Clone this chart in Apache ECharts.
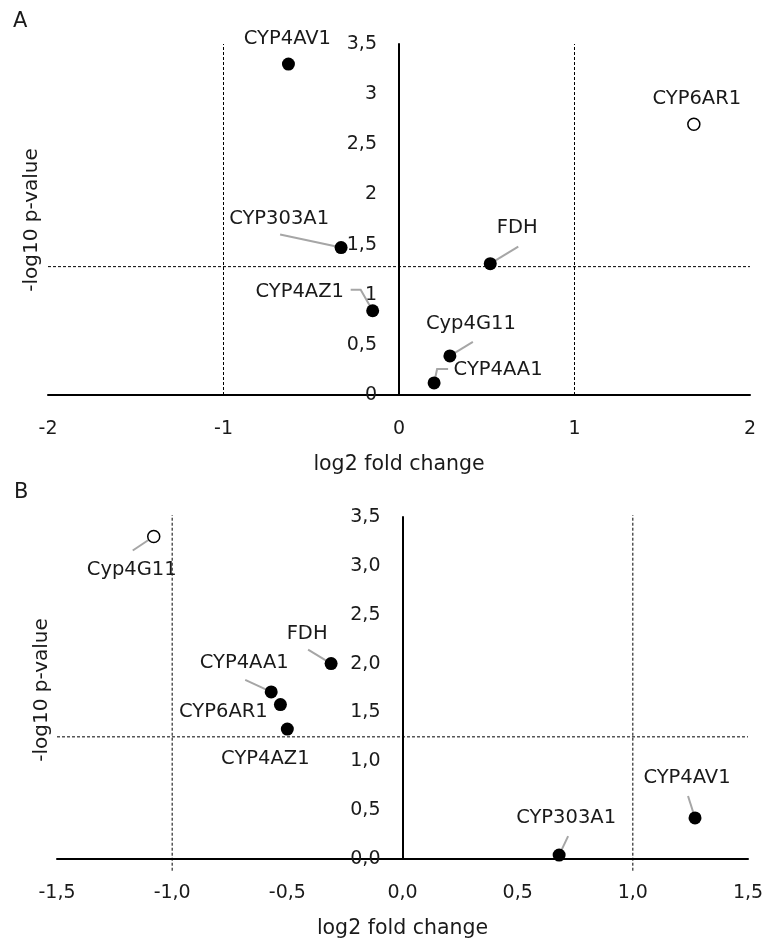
<!DOCTYPE html>
<html>
<head>
<meta charset="utf-8">
<script src="https://cdn.jsdelivr.net/npm/echarts@6/dist/echarts.min.js"></script>
<style>
  html, body { margin: 0; padding: 0; background: #fff; }
  #chart { width: 766px; height: 940px; }
</style>
</head>
<body>
<div id="chart"></div>
<script>
// panel A
const genesA = ['CYP4AV1', 'CYP6AR1', 'CYP303A1', 'FDH', 'CYP4AZ1', 'Cyp4G11', 'CYP4AA1'];
const foldA = [-0.63, 1.68, -0.33, 0.52, -0.15, 0.29, 0.20];
const pvalA = [3.30, 2.70, 1.47, 1.31, 0.84, 0.39, 0.12];
const xTicksA = [-2, -1, 0, 1, 2];
const yTicksA = [0, 0.5, 1, 1.5, 2, 2.5, 3, 3.5];
const pCutA = 1.28;

// panel B
const genesB = ['Cyp4G11', 'FDH', 'CYP4AA1', 'CYP6AR1', 'CYP4AZ1', 'CYP303A1', 'CYP4AV1'];
const foldB = [-1.08, -0.31, -0.57, -0.53, -0.50, 0.68, 1.27];
const pvalB = [3.30, 2.00, 1.71, 1.58, 1.33, 0.04, 0.42];
const xTicksB = [-1.5, -1.0, -0.5, 0.0, 0.5, 1.0, 1.5];
const yTicksB = [0, 0.5, 1, 1.5, 2, 2.5, 3, 3.5];
const pCutB = 1.25;

const foldCut = [-1, 1];

// label placement (px offsets from the point) and leader lines
const layoutA = {
  CYP4AV1: { off: [-1, -25] },
  CYP6AR1: { off: [3, -25] },
  CYP303A1: { off: [-62, -29], lead: [[-61, -13], [0, 0]] },
  FDH: { off: [27, -36], lead: [[28, -17], [0, 0]] },
  CYP4AZ1: { off: [-73, -19], lead: [[-22, -21], [-12, -21], [0, 0]] },
  Cyp4G11: { off: [21, -32], lead: [[23, -14], [0, 0]] },
  CYP4AA1: { off: [64, -13], lead: [[14, -14], [3, -14], [0, 0]] }
};
const layoutB = {
  Cyp4G11: { off: [-22, 33], lead: [[-21, 14], [0, 0]] },
  FDH: { off: [-24, -30], lead: [[-23, -14], [0, 0]] },
  CYP4AA1: { off: [-27, -29], lead: [[-26, -12], [0, 0]] },
  CYP6AR1: { off: [-57, 7] },
  CYP4AZ1: { off: [-22, 30] },
  CYP303A1: { off: [7, -37], lead: [[9, -19], [0, 0]] },
  CYP4AV1: { off: [-8, -40], lead: [[-7, -22], [0, 0]] }
};

const gridA = { left: 48, top: 44, width: 702, height: 351 };
const gridB = { left: 57, top: 517, width: 691, height: 342 };

const FONT = 'DejaVu Sans';
const TXT = '#1a1a1a';
const comma = (v, dec) => (dec ? v.toFixed(dec) : String(v)).replace('.', ',');

function points(genes, fold, pval, pCut, layout) {
  return genes.map((g, i) => {
    const hollow = Math.abs(fold[i]) >= 1 && pval[i] >= pCut;
    return {
      name: g,
      value: [fold[i], pval[i]],
      symbolSize: hollow ? 12 : 13,
      itemStyle: hollow
        ? { color: '#fff', borderColor: '#000', borderWidth: 1.5, opacity: 1 }
        : { color: '#000', opacity: 1 },
      label: { offset: layout[g].off }
    };
  });
}

function leaders(genes, fold, pval, layout, idx) {
  return {
    type: 'custom',
    xAxisIndex: idx, yAxisIndex: idx,
    z: 2,
    silent: true,
    data: genes.map((g, i) => [fold[i], pval[i]]),
    renderItem: function (params, api) {
      const lead = layout[genes[params.dataIndex]].lead;
      if (!lead) return null;
      const pt = api.coord([api.value(0), api.value(1)]);
      return {
        type: 'polyline',
        shape: { points: lead.map(o => [pt[0] + o[0], pt[1] + o[1]]) },
        style: { stroke: '#a6a6a6', lineWidth: 2, fill: null }
      };
    }
  };
}

function dashed(data, idx) {
  return {
    type: 'line', xAxisIndex: idx, yAxisIndex: idx,
    data: data, symbol: 'none', clip: false, silent: true, z: 1,
    lineStyle: { color: '#000', width: 1, type: [3, 2] }
  };
}

function xAxis(idx, ticks, dec, gap) {
  return {
    type: 'value', gridIndex: idx,
    min: ticks[0], max: ticks[ticks.length - 1], interval: ticks[1] - ticks[0],
    name: 'log2 fold change', nameLocation: 'middle', nameGap: gap,
    nameTextStyle: { fontFamily: FONT, fontSize: 20.5, color: TXT },
    axisLine: { onZero: false, lineStyle: { color: '#000', width: 2 } },
    axisTick: { show: false },
    splitLine: { show: false },
    axisLabel: { margin: 25, fontFamily: FONT, fontSize: 19, color: TXT, formatter: v => comma(v, dec) }
  };
}

// y axis sits on x = 0, so shift it right by the pixel distance of zero from the grid's left edge
function yAxis(idx, ticks, dec, grid, xTicks) {
  const x0 = xTicks[0], x1 = xTicks[xTicks.length - 1];
  return {
    type: 'value', gridIndex: idx,
    min: ticks[0], max: ticks[ticks.length - 1], interval: ticks[1] - ticks[0],
    offset: -grid.width * (0 - x0) / (x1 - x0),
    axisLine: { onZero: false, lineStyle: { color: '#000', width: 2 } },
    axisTick: { show: false },
    splitLine: { show: false },
    axisLabel: { margin: 22, fontFamily: FONT, fontSize: 19, color: TXT, formatter: v => comma(v, dec) }
  };
}

function yName(x, y) {
  return {
    type: 'text', x: x, y: y, rotation: Math.PI / 2,
    style: { text: '-log10 p-value', fontFamily: FONT, fontSize: 20, fill: TXT, align: 'center', verticalAlign: 'middle' }
  };
}

const chart = echarts.init(document.getElementById('chart'));
chart.setOption({
  backgroundColor: '#fff',
  animation: false,
  graphic: [
    { type: 'text', left: 13, top: 11, style: { text: 'A', fontFamily: FONT, fontSize: 21, fill: TXT } },
    { type: 'text', left: 14, top: 482, style: { text: 'B', fontFamily: FONT, fontSize: 21, fill: TXT } },
    yName(32, 220),
    yName(42, 690)
  ],
  grid: [
    Object.assign({ outerBoundsMode: 'none', containLabel: false }, gridA),
    Object.assign({ outerBoundsMode: 'none', containLabel: false }, gridB)
  ],
  xAxis: [xAxis(0, xTicksA, 0, 59), xAxis(1, xTicksB, 1, 59)],
  yAxis: [yAxis(0, yTicksA, 0, gridA, xTicksA), yAxis(1, yTicksB, 1, gridB, xTicksB)],
  series: [
    dashed([[foldCut[0], 0], [foldCut[0], 3.5]], 0),
    dashed([[foldCut[1], 0], [foldCut[1], 3.5]], 0),
    dashed([[xTicksA[0], pCutA], [xTicksA[xTicksA.length - 1], pCutA]], 0),
    dashed([[foldCut[0], -0.12], [foldCut[0], 3.52]], 1),
    dashed([[foldCut[1], -0.12], [foldCut[1], 3.52]], 1),
    dashed([[xTicksB[0], pCutB], [xTicksB[xTicksB.length - 1], pCutB]], 1),
    leaders(genesA, foldA, pvalA, layoutA, 0),
    leaders(genesB, foldB, pvalB, layoutB, 1),
    {
      type: 'scatter', xAxisIndex: 0, yAxisIndex: 0, z: 3,
      data: points(genesA, foldA, pvalA, pCutA, layoutA),
      label: { show: true, position: 'inside', formatter: '{b}', fontFamily: FONT, fontSize: 19.5, color: TXT }
    },
    {
      type: 'scatter', xAxisIndex: 1, yAxisIndex: 1, z: 3,
      data: points(genesB, foldB, pvalB, pCutB, layoutB),
      label: { show: true, position: 'inside', formatter: '{b}', fontFamily: FONT, fontSize: 19.5, color: TXT }
    }
  ]
});
</script>
</body>
</html>
